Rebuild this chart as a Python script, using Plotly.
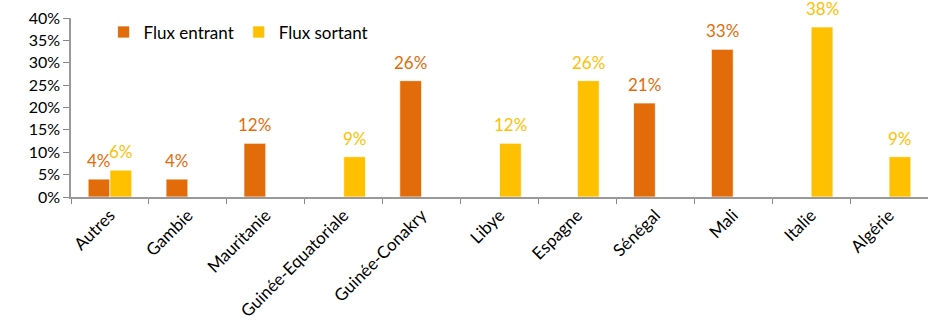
import plotly.graph_objects as go

categories = ["Autres", "Gambie", "Mauritanie", "Guinée-Equatoriale", "Guinée-Conakry",
              "Libye", "Espagne", "Sénégal", "Mali", "Italie", "Algérie"]
flux_entrant = [4, 4, 12, None, 26, None, None, 21, 33, None, None]
flux_sortant = [6, None, None, 9, None, 12, 26, None, None, 38, 9]
y_ticks = [0, 5, 10, 15, 20, 25, 30, 35, 40]

ORANGE = "#E36C0A"
YELLOW = "#FFC000"
FONT = "Lato"

fig = go.Figure()
fig.add_trace(go.Bar(name="Flux entrant", x=categories, y=flux_entrant,
                     marker=dict(color=ORANGE, line=dict(color="rgba(255,255,255,0.7)", width=1))))
fig.add_trace(go.Bar(name="Flux sortant", x=categories, y=flux_sortant,
                     marker=dict(color=YELLOW, line=dict(color="rgba(255,255,255,0.7)", width=1))))

annotations = []
for series, color, shift in [(flux_entrant, ORANGE, -11), (flux_sortant, YELLOW, 11)]:
    for c, v in zip(categories, series):
        if v is None:
            continue
        annotations.append(dict(x=c, y=v, xref="x", yref="y", text=f"{v}%",
                                showarrow=False, xshift=shift, yanchor="bottom", yshift=6,
                                font=dict(family=FONT, size=17, color=color)))

fig.update_layout(
    width=928, height=327,
    margin=dict(l=71, r=0, t=18, b=130, autoexpand=False),
    paper_bgcolor="white", plot_bgcolor="white",
    barmode="group", bargap=0.44, bargroupgap=0,
    font=dict(family=FONT, size=15, color="#000000"),
    showlegend=True,
    legend=dict(orientation="h", x=0.038, y=1.02, xanchor="left", yanchor="top",
                font=dict(family=FONT, size=17, color="#000000"),
                itemwidth=30, bgcolor="rgba(0,0,0,0)"),
    annotations=annotations,
)
fig.update_xaxes(type="category", tickangle=-45, tickson="boundaries",
                 ticks="outside", ticklen=5, tickcolor="#888888",
                 showline=True, linecolor="#999999", linewidth=1.5,
                 showgrid=False, automargin=False, ticklabeloverflow="allow",
                 tickfont=dict(family=FONT, size=17, color="#000000"))
fig.update_yaxes(range=[0, 40], tickvals=y_ticks, ticktext=[f"{t}%" for t in y_ticks],
                 ticks="outside", ticklen=6, tickcolor="#888888",
                 showline=True, linecolor="#999999", linewidth=1.5,
                 showgrid=False, zeroline=False, automargin=False,
                 ticklabeloverflow="allow",
                 tickfont=dict(family=FONT, size=16, color="#000000"))

fig.write_html("out.html", config={"displayModeBar": False},
               post_script="document.body.style.margin='0';")
